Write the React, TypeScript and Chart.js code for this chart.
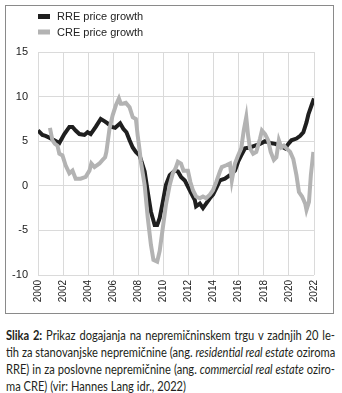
import React, { useEffect, useLayoutEffect, useRef, useState } from "react";
import { Chart, registerables } from "chart.js";

Chart.register(...registerables);

// ---- data (decimal years, % growth) ----
const rreDates = [2000.0, 2000.35, 2000.6, 2000.9, 2001.3, 2001.7, 2002.1, 2002.5, 2002.75, 2003.0, 2003.3, 2003.7, 2003.95, 2004.2, 2004.6, 2005.0, 2005.35, 2005.55, 2005.9, 2006.15, 2006.55, 2006.8, 2007.05, 2007.3, 2007.55, 2007.8, 2008.1, 2008.5, 2008.75, 2009.0, 2009.3, 2009.5, 2009.7, 2009.95, 2010.2, 2010.5, 2010.9, 2011.15, 2011.4, 2011.7, 2011.95, 2012.2, 2012.5, 2012.6, 2012.9, 2013.15, 2013.4, 2013.7, 2013.95, 2014.2, 2014.5, 2014.9, 2015.3, 2015.7, 2015.95, 2016.2, 2016.5, 2016.9, 2017.3, 2017.7, 2018.1, 2018.5, 2018.9, 2019.3, 2019.7, 2019.95, 2020.2, 2020.6, 2020.9, 2021.15, 2021.4, 2021.55, 2021.8, 2022.0];
const rreValues = [6.2, 5.7, 5.6, 5.4, 5.1, 4.8, 5.8, 6.6, 6.6, 6.2, 5.8, 5.7, 6.0, 5.8, 6.6, 7.5, 7.2, 7.0, 6.6, 6.5, 7.0, 6.4, 6.0, 5.1, 4.3, 3.8, 3.4, 1.6, -0.7, -2.9, -4.4, -4.4, -3.6, -1.8, 0.1, 1.2, 1.7, 1.6, 1.0, 0.6, -0.1, -0.8, -1.6, -2.3, -2.0, -2.5, -2.0, -1.4, -1.0, -0.3, 0.6, 0.8, 1.2, 1.7, 2.7, 3.4, 4.2, 4.3, 4.5, 4.7, 5.0, 4.8, 4.7, 4.5, 4.2, 4.7, 5.1, 5.3, 5.6, 6.0, 7.1, 8.0, 9.0, 9.8];

const creDates = [2000.95, 2001.15, 2001.35, 2001.55, 2001.7, 2001.95, 2002.2, 2002.5, 2002.75, 2003.0, 2003.4, 2003.8, 2004.1, 2004.25, 2004.5, 2004.9, 2005.15, 2005.35, 2005.45, 2005.7, 2005.95, 2006.2, 2006.45, 2006.6, 2006.75, 2007.0, 2007.3, 2007.55, 2007.8, 2007.95, 2008.1, 2008.2, 2008.5, 2008.75, 2009.0, 2009.2, 2009.5, 2009.7, 2009.95, 2010.2, 2010.5, 2010.75, 2010.95, 2011.15, 2011.4, 2011.6, 2011.95, 2012.15, 2012.35, 2012.6, 2012.9, 2013.15, 2013.4, 2013.7, 2013.95, 2014.2, 2014.5, 2014.65, 2015.0, 2015.3, 2015.45, 2015.7, 2015.95, 2016.2, 2016.4, 2016.6, 2016.75, 2016.9, 2017.15, 2017.4, 2017.7, 2017.85, 2018.1, 2018.35, 2018.55, 2018.8, 2019.0, 2019.2, 2019.4, 2019.6, 2019.8, 2020.1, 2020.35, 2020.6, 2020.8, 2021.05, 2021.3, 2021.4, 2021.6, 2021.75, 2021.95];
const creValues = [6.5, 5.1, 4.7, 4.5, 3.6, 3.4, 2.3, 1.4, 1.7, 0.8, 0.8, 1.0, 1.7, 2.5, 2.1, 2.5, 2.9, 3.2, 3.8, 6.4, 7.9, 9.0, 9.8, 9.2, 9.2, 9.3, 8.8, 7.7, 7.5, 5.6, 4.0, 2.7, 0.1, -3.6, -6.6, -8.3, -8.5, -7.3, -4.7, -2.1, 0.1, 1.4, 1.9, 2.7, 2.5, 1.7, 1.7, 0.4, -0.5, -1.2, -1.4, -1.2, -1.4, -1.0, -0.5, 0.4, 1.6, 2.1, 2.3, 2.5, 0.6, 2.5, 3.4, 4.2, 6.2, 7.7, 5.6, 4.2, 3.6, 3.8, 5.3, 6.2, 5.8, 5.1, 3.8, 2.9, 3.2, 5.1, 4.3, 4.5, 4.2, 3.8, 3.0, 1.2, -0.7, -1.2, -2.0, -2.7, -1.8, 1.2, 3.8];

const seriesLabels = ["RRE price growth", "CRE price growth"];
const xMin = 2000;
const xMax = 2022;
const xStep = 2;
const yMin = -10;
const yMax = 15;
const yStep = 5;

const FONT = '"Liberation Sans", Arial, sans-serif';
const CAPTION_FONT = "Lato, 'Open Sans', sans-serif";

const stackedLegend = {
  id: "stackedLegend",
  afterDraw(chart: any) {
    const ctx = chart.ctx;
    const left = chart.chartArea.left;
    ctx.save();
    chart.data.datasets.forEach((ds: any, i: number) => {
      const y = 16.5 + 15.5 * i;
      ctx.strokeStyle = ds.borderColor;
      ctx.lineWidth = 5;
      ctx.lineCap = "butt";
      ctx.beginPath();
      ctx.moveTo(left, y);
      ctx.lineTo(left + 12, y);
      ctx.stroke();
      ctx.fillStyle = "#222";
      ctx.font = "11px " + FONT;
      ctx.textBaseline = "middle";
      ctx.textAlign = "left";
      ctx.fillText(ds.label, left + 19, y + 0.5);
    });
    ctx.restore();
  },
};

function ChartCanvas() {
  const ref = useRef<HTMLCanvasElement | null>(null);
  useEffect(() => {
    if (!ref.current) return;
    const chart = new Chart(ref.current, {
      type: "line",
      data: {
        datasets: [
          {
            label: seriesLabels[0],
            data: rreDates.map((d, i) => ({ x: d, y: rreValues[i] })),
            borderColor: "#1f1f1f",
            borderWidth: 4,
            pointRadius: 0,
            tension: 0,
            order: 1,
          },
          {
            label: seriesLabels[1],
            data: creDates.map((d, i) => ({ x: d, y: creValues[i] })),
            borderColor: "#b3b3b3",
            borderWidth: 4,
            pointRadius: 0,
            tension: 0,
            order: 0,
          },
        ],
      },
      options: {
        animation: false,
        responsive: false,
        maintainAspectRatio: false,
        layout: { padding: { left: 0, right: 28, top: 52, bottom: 0 } },
        plugins: { legend: { display: false }, tooltip: { enabled: false } },
        scales: {
          x: {
            type: "linear",
            min: xMin,
            max: xMax,
            grid: { color: "#dadada", lineWidth: 1, drawTicks: false },
            border: { display: false },
            ticks: {
              stepSize: xStep,
              autoSkip: false,
              minRotation: 90,
              maxRotation: 90,
              padding: 5,
              color: "#222",
              font: { family: FONT, size: 10 },
              callback: (v: any) => String(v),
            },
            afterFit: (s: any) => {
              s.height = 45;
            },
          },
          y: {
            min: yMin,
            max: yMax,
            grid: { color: "#dadada", lineWidth: 1, drawTicks: false },
            border: { display: false },
            ticks: {
              stepSize: yStep,
              padding: 10,
              color: "#222",
              font: { family: FONT, size: 11 },
            },
            afterFit: (s: any) => {
              s.width = 38;
            },
          },
        },
      },
      plugins: [stackedLegend],
    });
    return () => chart.destroy();
  }, []);
  return (
    <canvas
      ref={ref}
      width={342}
      height={320}
      style={{ position: "absolute", left: 0, top: 0, width: 342, height: 320 }}
    />
  );
}

const captionLine2 = (
  <>
    tih za stanovanjske nepremičnine (ang. <i>residential real estate</i> oziroma
  </>
);

function Caption() {
  const measureRef = useRef<HTMLDivElement | null>(null);
  const [scale, setScale] = useState(0.8);
  const target = 329;
  const fontSize = 12.5;
  useLayoutEffect(() => {
    if (measureRef.current) {
      const w = measureRef.current.offsetWidth;
      if (w > 0) setScale(target / w);
    }
  }, []);
  const lineStyle: React.CSSProperties = {
    whiteSpace: "nowrap",
    textAlign: "justify",
    textAlignLast: "justify" as any,
    height: 17,
  };
  return (
    <>
      <div
        ref={measureRef}
        style={{
          position: "absolute",
          left: 0,
          top: 0,
          visibility: "hidden",
          whiteSpace: "nowrap",
          display: "inline-block",
          fontFamily: CAPTION_FONT,
          fontSize,
        }}
      >
        {captionLine2}
      </div>
      <div
        style={{
          position: "absolute",
          left: 6,
          top: 327,
          width: target / scale,
          transform: `scaleX(${scale})`,
          transformOrigin: "left top",
          fontFamily: CAPTION_FONT,
          fontSize,
          lineHeight: "17px",
          color: "#231f20",
        }}
      >
        <div style={lineStyle}>
          <b>Slika 2:</b> Prikaz dogajanja na nepremičninskem trgu v zadnjih 20 le-
        </div>
        <div style={lineStyle}>{captionLine2}</div>
        <div style={lineStyle}>
          RRE) in za poslovne nepremičnine (ang. <i>commercial real estate</i> oziro-
        </div>
        <div style={{ whiteSpace: "nowrap", height: 17 }}>ma CRE) (vir: Hannes Lang idr., 2022)</div>
      </div>
    </>
  );
}

export default function App() {
  return (
    <div
      style={{
        position: "absolute",
        left: 0,
        top: 0,
        width: 342,
        height: 393,
        background: "#fff",
        overflow: "hidden",
      }}
    >
      <div
        style={{
          position: "absolute",
          left: 5,
          top: 5,
          width: 329,
          height: 309,
          border: "1px solid #8a8a8a",
          boxSizing: "border-box",
        }}
      />
      <ChartCanvas />
      <Caption />
    </div>
  );
}
